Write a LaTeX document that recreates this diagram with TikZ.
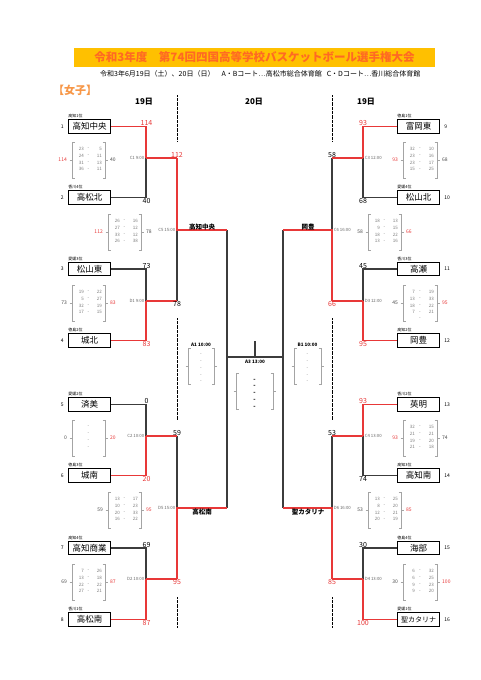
\documentclass[tikz,border=0pt]{standalone}
\usepackage{fontspec}
\setmainfont{Noto Sans CJK JP}
\usepackage{xcolor}
\usepackage{tikz}
\usetikzlibrary{positioning}

\definecolor{winred}{RGB}{232,56,56}
\definecolor{linegray}{RGB}{60,60,60}
\definecolor{bargold}{RGB}{255,192,0}
\definecolor{titlered}{RGB}{255,105,35}
\definecolor{jorange}{RGB}{247,150,70}
\definecolor{setgray}{RGB}{125,125,125}

% set-score bracket: name, left x, right x, top y, rows, left total, colour, right total, colour
\newcommand{\setscores}[9]{%
  \draw[brk] (#2+2.5,#4) -- (#2,#4) -- (#2,#4+36) -- (#2+2.5,#4+36);
  \draw[brk] (#3-2.5,#4) -- (#3,#4) -- (#3,#4+36) -- (#3-2.5,#4+36);
  \draw[brk] (#2-2.5,#4+18) -- (#2,#4+18);
  \draw[brk] (#3,#4+18) -- (#3+2.5,#4+18);
  \node[tot, text=#7, anchor=east] (#1l) at (#2-5,#4+18) {#6};
  \node[tot, text=#9, anchor=west] (#1r) at (#3+5,#4+18) {#8};
  \foreach \a/\b [count=\k] in {#5} {
    \node[rowtxt, anchor=east] (#1a\k) at (#2+12,#4+0.5+6.7*\k) {\a};
    \node[rowtxt] (#1m\k) at ({(#2+#3)/2},#4+0.5+6.7*\k) {-};
    \node[rowtxt, anchor=east] (#1b\k) at (#3-3,#4+0.5+6.7*\k) {\b};
  }%
}

\begin{document}
\begin{tikzpicture}[x=1pt, y=-1pt,
  titlebar/.style={fill=bargold, minimum width=361pt, minimum height=19pt, inner sep=0pt, text=titlered, font=\bfseries\fontsize{11.5}{11.5}\selectfont},
  team/.style={draw, line width=1.1pt, minimum width=42pt, minimum height=13.5pt, inner sep=0pt, font=\fontsize{8.5}{8.5}\selectfont},
  pref/.style={font=\fontsize{4}{4}\selectfont, inner sep=0.3pt},
  seed/.style={font=\fontsize{5}{5}\selectfont, inner sep=0pt},
  big/.style={font=\fontsize{7}{7}\selectfont, inner sep=0.6pt},
  game/.style={font=\fontsize{4.3}{4.3}\selectfont, text=black!60, inner sep=0.6pt},
  win/.style={draw=winred, line width=1.1pt},
  lose/.style={draw=linegray, line width=1.1pt},
  brk/.style={draw=setgray!70, line width=0.5pt},
  tot/.style={font=\fontsize{5}{5}\selectfont, inner sep=0pt},
  rowtxt/.style={font=\fontsize{4.5}{4.5}\selectfont, text=setgray, inner sep=0pt},
  winner/.style={font=\bfseries\fontsize{6.5}{6.5}\selectfont, inner sep=0.5pt},
  day/.style={font=\bfseries\fontsize{8}{8}\selectfont, inner sep=0pt},
  fhead/.style={font=\bfseries\fontsize{4.6}{4.6}\selectfont, inner sep=0.5pt},
  dotline/.style={line width=0.8pt, dash pattern=on 0.8pt off 0.5pt}]
\fill[white] (0,0) rectangle (481,680);
\useasboundingbox (0,0) rectangle (481,680);
% Heading
\node[titlebar] (title) at (254.5,57.5) {令和3年度　第74回四国高等学校バスケットボール選手権大会};
\node[anchor=west, inner sep=0pt, font=\fontsize{7}{7}\selectfont] (sub) at (100,74) {令和3年6月19日（土）、20日（日）\hspace{7pt}A・Bコート…高松市総合体育館\hspace{5pt}C・Dコート…香川総合体育館};
\node[anchor=west, inner sep=0pt, text=jorange, font=\bfseries\fontsize{11}{11}\selectfont] (girls) at (53,90) {【女子】};
\node[day] (dl) at (144,102) {19日};
\node[day] (dm) at (254,102) {20日};
\node[day] (dr) at (366,102) {19日};
\draw[dotline] (177,95) -- (177,141) (177,318) -- (177,420) (177,597) -- (177,627);
\draw[dotline] (332,95) -- (332,141) (332,318) -- (332,420) (332,597) -- (332,627);

% Teams
\foreach \i/\y/\nm/\pf in {1/126.5/高知中央/高知1位, 2/197.5/高松北/香川4位, 3/269/松山東/愛媛3位, 4/340.5/城北/徳島2位,
    5/404.5/済美/愛媛2位, 6/475.5/城南/徳島3位, 7/548/高知商業/高知4位, 8/619.5/高松南/香川1位} {
  \node[team] (t\i) at (89.5,\y) {\nm};
  \node[pref, anchor=south west] (p\i) at ([yshift=0.4pt]t\i.north west) {\pf};
  \node[seed, left=4pt of t\i] (n\i) {\i};
}
\foreach \i/\y/\nm/\pf in {9/126.5/富岡東/徳島1位, 10/197.5/松山北/愛媛4位, 11/269/高瀬/香川3位, 12/340.5/岡豊/高知2位,
    13/404.5/英明/香川2位, 14/475.5/高知南/高知3位, 15/548/海部/徳島4位, 16/619.5/{\fontsize{7}{7}\selectfont 聖カタリナ}/愛媛1位} {
  \node[team] (t\i) at (418.5,\y) {\nm};
  \node[pref, anchor=south west] (p\i) at ([yshift=0.4pt]t\i.north west) {\pf};
  \node[seed, right=4pt of t\i] (n\i) {\i};
}

% Junctions
\coordinate (qa) at (146,158); \coordinate (qb) at (146,301);
\coordinate (qc) at (146,436); \coordinate (qd) at (146,579);
\coordinate (sa) at (177,158); \coordinate (sb) at (177,301);
\coordinate (sc) at (177,436); \coordinate (sd) at (177,579);
\coordinate (ja) at (177,230); \coordinate (jb) at (177,508);
\coordinate (fa) at (227,230); \coordinate (fb) at (227,508);
\coordinate (qe) at (363,158); \coordinate (qf) at (363,301);
\coordinate (qg) at (363,436); \coordinate (qh) at (363,579);
\coordinate (se) at (332,158); \coordinate (sf) at (332,301);
\coordinate (sg) at (332,436); \coordinate (sh) at (332,579);
\coordinate (jc) at (332,230); \coordinate (jd) at (332,508);
\coordinate (fc) at (283,230); \coordinate (fd) at (283,508);
\coordinate (fl) at (227,357); \coordinate (fr) at (283,357);
\coordinate (fm) at (255,357); \coordinate (ft) at (255,341);

% Lost lines
\draw[lose] (t2.east) -| (qa);
\draw[lose] (t3.east) -| (qb);
\draw[lose] (t5.east) -| (qc);
\draw[lose] (t7.east) -| (qd);
\draw[lose] (sb) -- (ja);
\draw[lose] (sc) -- (jb);
\draw[lose] (t10.west) -| (qe);
\draw[lose] (t11.west) -| (qf);
\draw[lose] (t14.west) -| (qg);
\draw[lose] (t15.west) -| (qh);
\draw[lose] (se) -- (jc);
\draw[lose] (sg) -- (jd);
\draw[lose] (fa) -- (fb);
\draw[lose] (fc) -- (fd);
\draw[lose] (fl) -- (fr);
\draw[lose] (ft) -- (fm);
% Winning lines
\draw[win] (t1.east) -| (qa);
\draw[win] (t4.east) -| (qb);
\draw[win] (t6.east) -| (qc);
\draw[win] (t8.east) -| (qd);
\draw[win] (qa) -- (sa);
\draw[win] (qb) -- (sb);
\draw[win] (qc) -- (sc);
\draw[win] (qd) -- (sd);
\draw[win] (sa) -- (ja) -- (fa);
\draw[win] (sd) -- (jb) -- (fb);
\draw[win] (t9.west) -| (qe);
\draw[win] (t12.west) -| (qf);
\draw[win] (t13.west) -| (qg);
\draw[win] (t16.west) -| (qh);
\draw[win] (qe) -- (se);
\draw[win] (qf) -- (sf);
\draw[win] (qg) -- (sg);
\draw[win] (qh) -- (sh);
\draw[win] (sf) -- (jc) -- (fc);
\draw[win] (sh) -- (jd) -- (fd);

% Scores
\node[big, text=winred, anchor=south] (r1) at (146.5,126.5) {114};
\node[big, anchor=north] (r2) at (146.5,197.5) {40};
\node[big, anchor=south] (r3) at (146.5,269) {73};
\node[big, text=winred, anchor=north] (r4) at (146.5,340.5) {83};
\node[big, anchor=south] (r5) at (146.5,404.5) {0};
\node[big, text=winred, anchor=north] (r6) at (146.5,475.5) {20};
\node[big, anchor=south] (r7) at (146.5,548) {69};
\node[big, text=winred, anchor=north] (r8) at (146.5,619.5) {87};
\node[big, text=winred, anchor=south] (ra) at (177,158) {112};
\node[big, anchor=north] (rb) at (177,301) {78};
\node[big, anchor=south] (rc) at (177,436) {59};
\node[big, text=winred, anchor=north] (rd) at (177,579) {95};
\node[big, text=winred, anchor=south] (r9) at (363,126.5) {93};
\node[big, anchor=north] (r10) at (363,197.5) {68};
\node[big, anchor=south] (r11) at (363,269) {45};
\node[big, text=winred, anchor=north] (r12) at (363,340.5) {95};
\node[big, text=winred, anchor=south] (r13) at (363,404.5) {93};
\node[big, anchor=north] (r14) at (363,475.5) {74};
\node[big, anchor=south] (r15) at (363,548) {30};
\node[big, text=winred, anchor=north] (r16) at (363,619.5) {100};
\node[big, anchor=south] (re) at (332,158) {58};
\node[big, text=winred, anchor=north] (rf) at (332,301) {66};
\node[big, anchor=south] (rg) at (332,436) {53};
\node[big, text=winred, anchor=north] (rh) at (332,579) {85};

% Games
\node[game, anchor=east] (g1) at (145,158) {C1 9:00};
\node[game, anchor=east] (g2) at (145,301) {D1 9:00};
\node[game, anchor=east] (g3) at (145,436) {C2 10:00};
\node[game, anchor=east] (g4) at (145,579) {D2 10:00};
\node[game, anchor=east] (g5) at (176,230) {C5 15:00};
\node[game, anchor=east] (g6) at (176,508) {D5 15:00};
\node[game, anchor=west] (g7) at (364,158) {C3 12:00};
\node[game, anchor=west] (g8) at (364,301) {D3 12:00};
\node[game, anchor=west] (g9) at (364,436) {C4 13:00};
\node[game, anchor=west] (g10) at (364,579) {D4 13:00};
\node[game, anchor=west] (g11) at (333,230) {C6 16:00};
\node[game, anchor=west] (g12) at (333,508) {D6 16:00};
\node[winner, anchor=south] (w1) at (202,230.5) {高知中央};
\node[winner, anchor=north] (w2) at (202,508.5) {高松南};
\node[winner, anchor=south] (w3) at (308,230.5) {岡豊};
\node[winner, anchor=north] (w4) at (308,508.5) {聖カタリナ};

% Set scores
\setscores{k1}{72}{105}{142}{23/5,24/11,31/13,36/11}{114}{winred}{40}{black!70}
\setscores{k2}{108}{141}{214}{26/16,27/12,33/12,26/38}{112}{winred}{78}{black!70}
\setscores{k3}{72}{105}{285}{19/22,5/27,32/19,17/15}{73}{black!70}{83}{winred}
\setscores{k4}{72}{105}{420}{/,/,/,/}{0}{black!70}{20}{winred}
\setscores{k5}{108}{141}{492}{13/17,10/23,20/33,16/22}{59}{black!70}{95}{winred}
\setscores{k6}{72}{105}{564}{7/26,13/18,22/22,27/21}{69}{black!70}{87}{winred}
\setscores{k7}{403}{437}{142}{32/10,23/16,23/17,15/25}{93}{winred}{68}{black!70}
\setscores{k8}{368}{401}{214}{18/13,9/15,18/22,13/16}{58}{black!70}{66}{winred}
\setscores{k9}{403}{437}{285}{7/19,13/33,18/22,7/21,/}{45}{black!70}{95}{winred}
\setscores{k10}{403}{437}{420}{32/15,21/21,19/20,21/18}{93}{winred}{74}{black!70}
\setscores{k11}{368}{401}{492}{13/25,8/20,12/21,20/19}{53}{black!70}{85}{winred}
\setscores{k12}{403}{437}{564}{6/32,6/25,9/23,9/20}{30}{black!70}{100}{winred}

% Day two
\node[fhead, anchor=south] (ha1) at (201,347) {A1 10:00};
\node[fhead, anchor=south] (hb1) at (307.5,347) {B1 10:00};
\node[fhead] (ha3) at (255,361.5) {A3 13:00};
\setscores{fa}{188}{214}{348}{/,/,/,/,/}{}{black}{}{black}
\setscores{fb}{294}{321}{348}{/,/,/,/,/}{}{black}{}{black}
\begin{scope}[rowtxt/.append style={text=black, font=\bfseries\fontsize{6}{6}\selectfont}]
\setscores{fc}{236}{273}{373}{/,/,/,/,/}{}{black}{}{black}
\end{scope}
\end{tikzpicture}
\end{document}
